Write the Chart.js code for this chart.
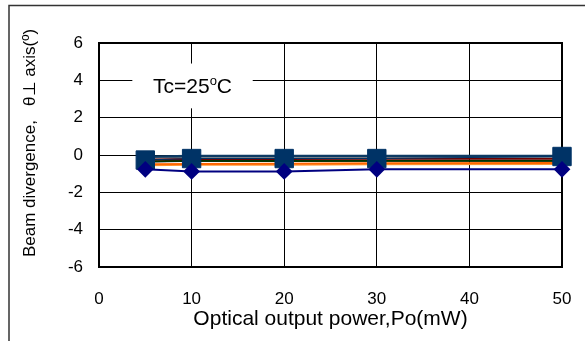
<!DOCTYPE html>
<html>
<head>
<meta charset="utf-8">
<script src="https://cdn.jsdelivr.net/npm/chart.js@4/dist/chart.umd.min.js"></script>
<style>
  html, body { margin: 0; padding: 0; background: #fff; }
  canvas { display: block; }
</style>
</head>
<body>
<canvas id="chart" width="585" height="341"></canvas>
<script>
// optical output power (mW)
const powers = [5, 10, 20, 30, 50];
const powerTicks = [0, 10, 20, 30, 40, 50];
const angleTicks = [-6, -4, -2, 0, 2, 4, 6];

// beam divergence, theta-perpendicular axis (deg), one array per sample
const sampleTop    = [-0.10, -0.06, -0.05, -0.05, -0.05];
const sampleGray   = [-0.16, -0.12, -0.12, -0.12, -0.11];
const sampleRed    = [-0.24, -0.21, -0.21, -0.20, -0.20];
const sampleGreen  = [-0.34, -0.31, -0.32, -0.31, -0.31];
const sampleBlack  = [-0.38, -0.34, -0.34, -0.33, -0.33];
const sampleOrange = [-0.50, -0.48, -0.47, -0.44, -0.43];
const sampleLight  = [-0.56, -0.54, -0.53, -0.51, -0.50];
const sampleSquare = [-0.27, -0.19, -0.19, -0.19, -0.08];
const sampleDiamond = [-0.77, -0.88, -0.88, -0.77, -0.77];

const caseTemp = 'Tc=25';
const FONT = '"Liberation Sans", Arial, sans-serif';

function pts(vals) {
    return vals.map((v, i) => ({ x: powers[i], y: v }));
}

function lineSet(vals, color, order, extra) {
    return Object.assign({
        data: pts(vals),
        borderColor: color,
        backgroundColor: color,
        borderWidth: 2,
        pointRadius: 0,
        order: order,
        clip: false
    }, extra || {});
}

const frame = {
    id: 'frame',
    beforeDraw(chart) {
        const ctx = chart.ctx;
        ctx.save();
        ctx.fillStyle = '#fff';
        ctx.fillRect(0, 0, chart.width, chart.height);
        ctx.strokeStyle = '#333';
        ctx.lineWidth = 1.5;
        ctx.strokeRect(9, 5.5, 700, 500);
        ctx.restore();
    },
    beforeDatasetsDraw(chart) {
        const ctx = chart.ctx;
        const a = chart.chartArea;
        const x = chart.scales.x, y = chart.scales.y;
        ctx.save();
        ctx.strokeStyle = '#000';
        ctx.lineWidth = 2;
        ctx.strokeRect(a.left, a.top, a.right - a.left, a.bottom - a.top);

        // temperature label box
        const x0 = x.getPixelForValue(3.6), x1 = x.getPixelForValue(16.6);
        const y0 = y.getPixelForValue(4.9), y1 = y.getPixelForValue(2.5);
        ctx.fillStyle = '#fff';
        ctx.fillRect(x0, y0, x1 - x0, y1 - y0);
        ctx.fillStyle = '#000';
        ctx.textBaseline = 'middle';
        ctx.font = '21px ' + FONT;
        const w1 = ctx.measureText(caseTemp).width;
        ctx.font = '13px ' + FONT;
        const w2 = ctx.measureText('o').width;
        ctx.font = '21px ' + FONT;
        const w3 = ctx.measureText('C').width;
        const cx = (x0 + x1) / 2, cy = (y0 + y1) / 2 + 1;
        let tx = cx - (w1 + w2 + w3) / 2;
        ctx.textAlign = 'left';
        ctx.fillText(caseTemp, tx, cy);
        tx += w1;
        ctx.font = '13px ' + FONT;
        ctx.fillText('o', tx, cy - 6);
        tx += w2;
        ctx.font = '21px ' + FONT;
        ctx.fillText('C', tx, cy);
        ctx.restore();
    },
    afterDraw(chart) {
        const ctx = chart.ctx;
        ctx.save();
        ctx.translate(30, 143);
        ctx.rotate(-Math.PI / 2);
        ctx.fillStyle = '#000';
        ctx.textAlign = 'center';
        ctx.textBaseline = 'middle';
        ctx.font = '17px ' + FONT;
        ctx.fillText('Beam divergence,   \u03B8\u22A5 axis(\u00BA)', 0, 0);
        ctx.restore();
    }
};

new Chart(document.getElementById('chart'), {
    type: 'line',
    data: {
        datasets: [
            lineSet(sampleDiamond, '#000080', 0, { pointStyle: 'rectRot', pointRadius: 7 }),
            lineSet(sampleSquare, '#003366', 1, { pointStyle: 'rect', pointRadius: 13, borderWidth: 1 }),
            lineSet(sampleTop, '#0d3a63', 2, { borderWidth: 2.5 }),
            lineSet(sampleGray, '#7a7a7a', 3, { borderWidth: 1 }),
            lineSet(sampleRed, '#6e0000', 4),
            lineSet(sampleGreen, '#003300', 5),
            lineSet(sampleBlack, '#111111', 6, { borderWidth: 1 }),
            lineSet(sampleOrange, '#ff6600', 7),
            lineSet(sampleLight, '#ff9933', 8, { borderWidth: 1.5 })
        ]
    },
    options: {
        responsive: false,
        animation: false,
        devicePixelRatio: 1,
        layout: { padding: { left: 0, top: 43, right: 23, bottom: 0 } },
        plugins: { legend: { display: false }, tooltip: { enabled: false } },
        scales: {
            x: {
                type: 'linear',
                min: 0,
                max: 50,
                afterBuildTicks: s => { s.ticks = powerTicks.map(v => ({ value: v })); },
                afterFit: s => { s.height = 74; s.paddingLeft = 0; s.paddingRight = 0; },
                grid: { color: '#000', lineWidth: 1, drawTicks: false },
                border: { color: '#000', width: 2 },
                ticks: {
                    padding: 22,
                    color: '#000',
                    maxRotation: 0,
                    font: { family: FONT, size: 17 }
                },
                title: {
                    display: true,
                    text: 'Optical output power,Po(mW)',
                    color: '#000',
                    padding: { top: 0, bottom: 9 },
                    font: { family: FONT, size: 21 }
                }
            },
            y: {
                min: -6,
                max: 6,
                afterBuildTicks: s => { s.ticks = angleTicks.map(v => ({ value: v })); },
                afterFit: s => { s.width = 99; },
                grid: { color: '#000', lineWidth: 1, drawTicks: false },
                border: { color: '#000', width: 2 },
                ticks: {
                    padding: 16,
                    color: '#000',
                    font: { family: FONT, size: 17 }
                }
            }
        }
    },
    plugins: [frame]
});
</script>
</body>
</html>
